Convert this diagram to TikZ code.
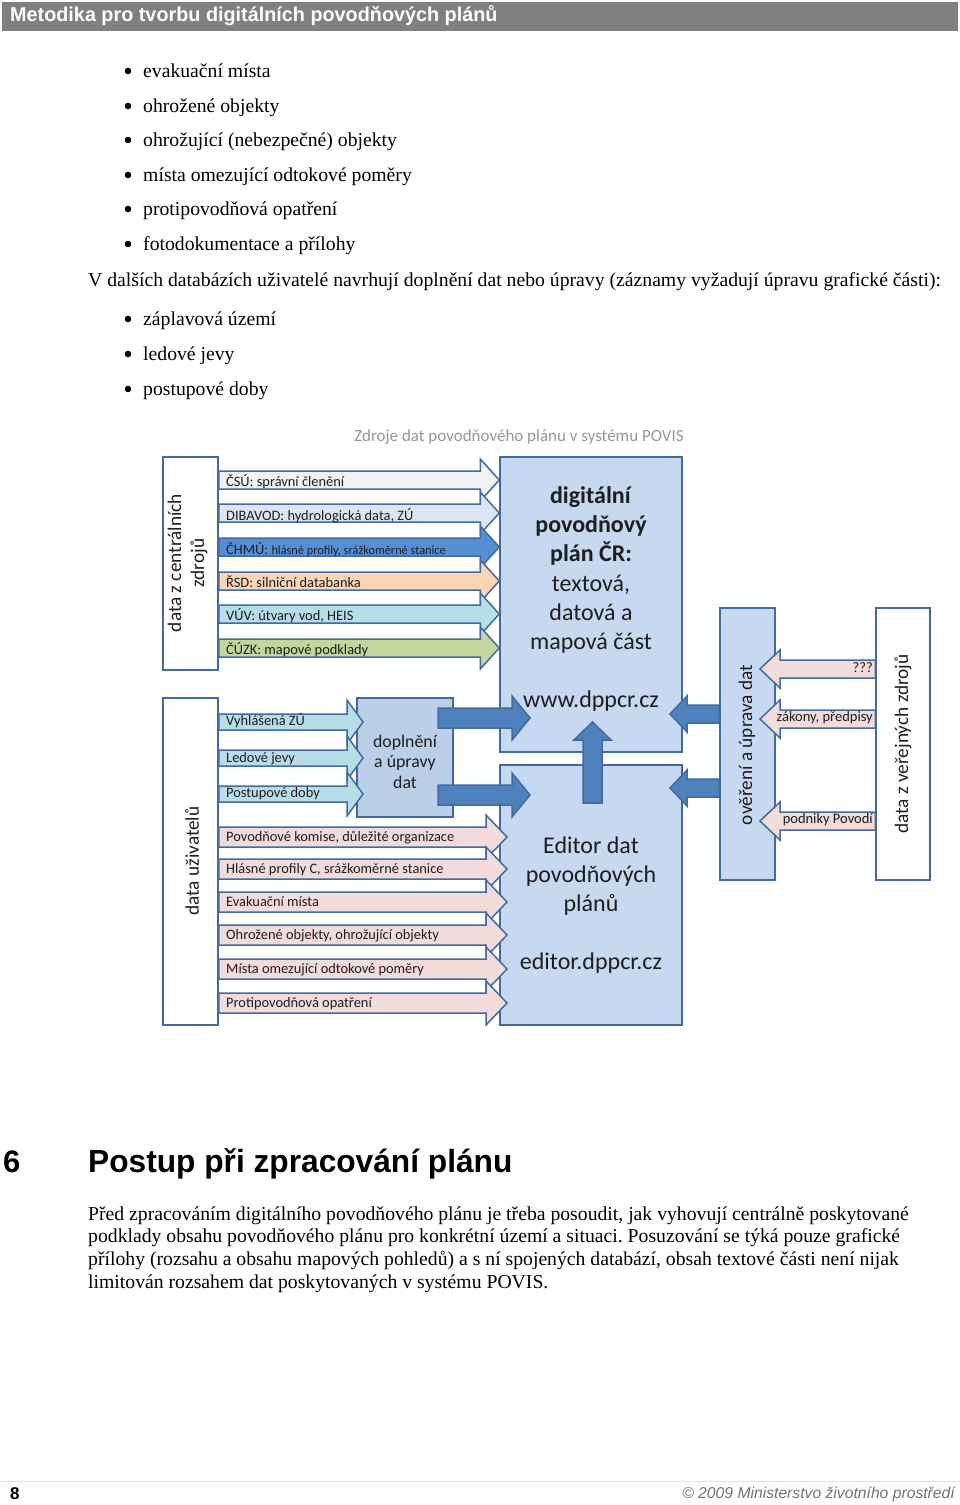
\documentclass[tikz,border=0pt]{standalone}
\usepackage{fontspec}
\setmainfont{Liberation Serif}
\newfontfamily\hdfont{Liberation Sans}
\newfontfamily\dgfont{Carlito}
\usetikzlibrary{calc}
\frenchspacing

\definecolor{hdgray}{RGB}{128,128,128}
\definecolor{boxline}{RGB}{66,106,158}
\definecolor{boxfill}{RGB}{198,217,241}
\definecolor{dopfill}{RGB}{188,207,233}
\definecolor{solidblue}{RGB}{79,129,189}
\definecolor{csu}{RGB}{242,242,242}
\definecolor{dib}{RGB}{220,230,242}
\definecolor{chmu}{RGB}{85,142,213}
\definecolor{rsd}{RGB}{252,213,181}
\definecolor{vuv}{RGB}{183,222,232}
\definecolor{cuzk}{RGB}{195,214,155}
\definecolor{pinkarr}{RGB}{242,220,219}
\definecolor{ttlgray}{RGB}{150,150,150}
\definecolor{dgtxt}{RGB}{30,30,30}

\tikzset{
  wbox/.style={draw=boxline, line width=1.5pt, fill=white},
  bbox/.style={draw=boxline, line width=1.5pt, fill=boxfill},
  blk/.style={draw=boxline, line width=1.5pt},
  item/.style={anchor=base west, inner sep=0pt, font=\fontsize{19.7}{22}\selectfont},
  para/.style={anchor=base west, inner sep=0pt, font=\fontsize{19.7}{22}\selectfont},
  lbl/.style={anchor=west, inner sep=0pt, text=dgtxt, font=\dgfont\fontsize{14.4}{16}\selectfont},
  rlbl/.style={anchor=east, inner sep=0pt, text=dgtxt, font=\dgfont\fontsize{14.5}{16}\selectfont},
  big/.style={align=center, text=dgtxt, inner sep=0pt},
  vert/.style={rotate=90, align=center, text=dgtxt, inner sep=0pt, font=\dgfont\fontsize{19.3}{23}\selectfont}
}

% #1 tail, #2 tip, #3 body half, #4 head half, #5 head length, #6 fill
\newcommand{\hblock}[6]{%
  \filldraw[blk, fill=#6] ($(#1)+(0,-#3)$) -- ($(#2)+({-(#5)},-#3)$) -- ($(#2)+({-(#5)},-#4)$)
    -- (#2) -- ($(#2)+({-(#5)},#4)$) -- ($(#2)+({-(#5)},#3)$) -- ($(#1)+(0,#3)$) -- cycle;}

\begin{document}
\begin{tikzpicture}[x=1pt, y=-1pt]
    \useasboundingbox (0,0) rectangle (960,1505);

    \fill[hdgray] (2,2) rectangle (958,31);
    \node[anchor=west, inner sep=0pt, text=white, font=\hdfont\bfseries\fontsize{20}{22}\selectfont, xscale=0.99]
      (head) at (10,16) {Metodika pro tvorbu digitálních povodňových plánů};

    \path
    (143,77) node[item](b1){evakuační místa}
    (143,112) node[item](b2){ohrožené objekty}
    (143,146) node[item](b3){ohrožující (nebezpečné) objekty}
    (143,181) node[item](b4){místa omezující odtokové poměry}
    (143,215) node[item](b5){protipovodňová opatření}
    (143,250) node[item](b6){fotodokumentace a přílohy}
    (88,286) node[item](intro){V dalších databázích uživatelé navrhují doplnění dat nebo úpravy (záznamy vyžadují úpravu grafické části):}
    (143,325) node[item](b7){záplavová území}
    (143,360) node[item](b8){ledové jevy}
    (143,395) node[item](b9){postupové doby};
    \foreach \y in {71,106,140,175,209,244,319,354,389}
      \fill (128,\y) circle (3.3);

    \node[text=ttlgray, font=\dgfont\fontsize{17}{19}\selectfont] (title) at (519,437) {Zdroje dat povodňového plánu v systému POVIS};

    \node[wbox, minimum width=55, minimum height=213] (cen) at (190.5,563.5) {};
    \node[wbox, minimum width=55, minimum height=327] (usr) at (190.5,861.5) {};
    \node[bbox, minimum width=182, minimum height=295] (dpp) at (591,604.5) {};
    \node[bbox, minimum width=182, minimum height=260] (edt) at (591,895) {};
    \node[bbox, fill=dopfill, minimum width=96, minimum height=119] (dop) at (405,757.5) {};
    \node[bbox, minimum width=55, minimum height=272] (ove) at (747.5,744) {};
    \node[wbox, minimum width=54, minimum height=272] (pub) at (903,744) {};

    \coordinate (cyantip) at (363,0);
    \coordinate (pinktip) at (507,0);
    \coordinate (solidtip) at (530,0);
    \coordinate (lefttip) at (670,0);
    \coordinate (pubtip) at (760,0);

    \hblock{cen.east |- 0,480}{dpp.west |- 0,480}{9}{21}{19}{csu}
    \hblock{cen.east |- 0,513}{dpp.west |- 0,513}{9}{21}{19}{dib}
    \hblock{cen.east |- 0,547}{dpp.west |- 0,547}{9}{21}{19}{chmu}
    \hblock{cen.east |- 0,581}{dpp.west |- 0,581}{9}{21}{19}{rsd}
    \hblock{cen.east |- 0,614}{dpp.west |- 0,614}{9}{21}{19}{vuv}
    \hblock{cen.east |- 0,648}{dpp.west |- 0,648}{9}{21}{19}{cuzk}

    \hblock{usr.east |- 0,722}{cyantip |- 0,722}{8}{22}{16}{vuv}
    \hblock{usr.east |- 0,758}{cyantip |- 0,758}{8}{22}{16}{vuv}
    \hblock{usr.east |- 0,794}{cyantip |- 0,794}{8}{22}{16}{vuv}

    \hblock{usr.east |- 0,837}{pinktip |- 0,837}{10}{22}{21}{pinkarr}
    \hblock{usr.east |- 0,869}{pinktip |- 0,869}{10}{22}{21}{pinkarr}
    \hblock{usr.east |- 0,902}{pinktip |- 0,902}{10}{22}{21}{pinkarr}
    \hblock{usr.east |- 0,935}{pinktip |- 0,935}{10}{22}{21}{pinkarr}
    \hblock{usr.east |- 0,969}{pinktip |- 0,969}{10}{22}{21}{pinkarr}
    \hblock{usr.east |- 0,1003}{pinktip |- 0,1003}{10}{22}{21}{pinkarr}

    \hblock{438,718}{solidtip |- 0,718}{10}{22}{18}{solidblue}
    \hblock{438,795}{solidtip |- 0,795}{10}{22}{18}{solidblue}
    \hblock{ove.west |- 0,714}{lefttip |- 0,714}{9}{18}{-17}{solidblue}
    \hblock{ove.west |- 0,788}{lefttip |- 0,788}{9}{18}{-17}{solidblue}

    \hblock{pub.west |- 0,669}{pubtip |- 0,669}{9}{19}{-20}{pinkarr}
    \hblock{pub.west |- 0,719}{pubtip |- 0,719}{9}{19}{-20}{pinkarr}
    \hblock{pub.west |- 0,821}{pubtip |- 0,821}{9}{19}{-20}{pinkarr}

    \filldraw[blk, fill=solidblue] (583,803) -- (583,740) -- (574,740) -- (592.5,722) -- (611,740) -- (602,740) -- (602,803) -- cycle;

    \node[lbl] (l1) at (226,482) {ČSÚ: správní členění};
    \node[lbl] (l2) at (226,516) {DIBAVOD: hydrologická data, ZÚ};
    \node[lbl] (l3) at (226,549) {ČHMÚ: {\fontsize{12.3}{13}\selectfont hlásné profily, srážkoměrné stanice}};
    \node[lbl] (l4) at (226,582) {ŘSD: silniční databanka};
    \node[lbl] (l5) at (226,616) {VÚV: útvary vod, HEIS};
    \node[lbl] (l6) at (226,650) {ČÚZK: mapové podklady};

    \node[lbl] (u1) at (226,721) {Vyhlášená ZÚ};
    \node[lbl] (u2) at (226,759) {Ledové jevy};
    \node[lbl] (u3) at (226,794) {Postupové doby};
    \node[lbl] (u4) at (226,838) {Povodňové komise, důležité organizace};
    \node[lbl] (u5) at (226,870) {Hlásné profily C, srážkoměrné stanice};
    \node[lbl] (u6) at (226,902) {Evakuační místa};
    \node[lbl] (u7) at (226,936) {Ohrožené objekty, ohrožující objekty};
    \node[lbl] (u8) at (226,970) {Místa omezující odtokové poměry};
    \node[lbl] (u9) at (226,1004) {Protipovodňová opatření};

    \node[rlbl] (p1) at (873,668) {???};
    \node[rlbl] (p2) at (873,718) {zákony, předpisy};
    \node[rlbl] (p3) at (873,820) {podniky Povodí};

    \node[vert] (cenT) at (187.5,563) {data z centrálních\\zdrojů};
    \node[vert] (usrT) at (192,861) {data uživatelů};
    \node[vert] (oveT) at (747,745) {ověření a úprava dat};
    \node[vert] (pubT) at (903,744) {data z veřejných zdrojů};

    \node[big, font=\dgfont\fontsize{24}{29.2}\selectfont] (dppT) at (591,570)
      {\textbf{digitální}\\\textbf{povodňový}\\\textbf{plán ČR:}\\textová,\\datová a\\mapová část};
    \node[big, font=\dgfont\fontsize{24}{29}\selectfont] (www) at (591,701) {www.dppcr.cz};
    \node[big, font=\dgfont\fontsize{24}{29}\selectfont] (edtT) at (591,876) {Editor dat\\povodňových\\plánů};
    \node[big, font=\dgfont\fontsize{24}{29}\selectfont] (edtW) at (591,963) {editor.dppcr.cz};
    \node[big, font=\dgfont\fontsize{17.8}{20.5}\selectfont] (dopT) at (405,761.5) {doplnění\\a úpravy\\dat};

    \node[anchor=base west, inner sep=0pt, font=\hdfont\bfseries\fontsize{31}{34}\selectfont] (secn) at (3,1172) {6};
    \node[anchor=base west, inner sep=0pt, font=\hdfont\bfseries\fontsize{32}{34}\selectfont, xscale=0.99] (sect) at (88,1172) {Postup při zpracování plánu};

    \path
    (88,1220) node[para](t1){Před zpracováním digitálního povodňového plánu je třeba posoudit, jak vyhovují centrálně poskytované}
    (88,1242) node[para](t2){podklady obsahu povodňového plánu pro konkrétní území a situaci. Posuzování se týká pouze grafické}
    (88,1265) node[para](t3){přílohy (rozsahu a obsahu mapových pohledů) a s ní spojených databází, obsah textové části není nijak}
    (88,1288) node[para](t4){limitován rozsahem dat poskytovaných v systému POVIS.};

    \draw[black!12, line width=1pt] (0,1481) -- (960,1481);
    \node[anchor=base west, inner sep=0pt, font=\hdfont\bfseries\fontsize{17}{20}\selectfont] (pg) at (10,1499) {8};
    \node[anchor=base east, inner sep=0pt, text=black!55, font=\hdfont\itshape\fontsize{15.7}{19}\selectfont] (copy) at (955,1498) {© 2009 Ministerstvo životního prostředí};

  \end{tikzpicture}
\end{document}
